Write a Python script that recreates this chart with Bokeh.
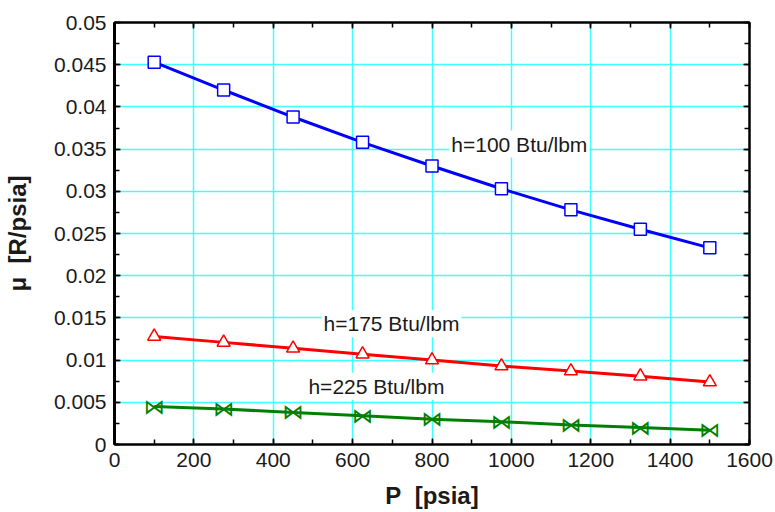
from bokeh.plotting import figure
from bokeh.models import (Range1d, LinearAxis, SingleIntervalTicker, CustomJSTickFormatter,
                          Label, ColumnDataSource)
from bokeh.core.properties import value
from bokeh.embed import file_html
from bokeh.resources import INLINE

# ---- data ----
P = [100, 275, 450, 625, 800, 975, 1150, 1325, 1500]
mu_h100 = [0.0453, 0.0420, 0.0388, 0.0358, 0.0330, 0.0303, 0.0278, 0.0255, 0.0233]
mu_h175 = [0.0128, 0.0121, 0.0114, 0.0107, 0.0100, 0.0093, 0.0087, 0.0081, 0.0074]
mu_h225 = [0.0045, 0.0042, 0.0038, 0.0034, 0.0030, 0.0027, 0.0023, 0.0020, 0.0017]
series_labels = ["h=100 Btu/lbm", "h=175 Btu/lbm", "h=225 Btu/lbm"]
x_title = "P\u00a0\u00a0[psia]"
y_title = "\u03bc\u00a0\u00a0[R/psia]"

FONT = "Liberation Sans"
GRID = "#40FFFF"
TXT = "#1a1a1a"

p = figure(width=775, height=512, output_backend="svg", toolbar_location=None,
           x_range=Range1d(0, 1600), y_range=Range1d(0, 0.05),
           x_axis_location=None, y_axis_location=None,
           min_border_left=114, min_border_right=26, min_border_top=22, min_border_bottom=68)
p.outline_line_color = "black"
p.outline_line_width = 2
p.background_fill_color = "white"
p.border_fill_color = "white"

xt = SingleIntervalTicker(interval=200, num_minor_ticks=2)
yt = SingleIntervalTicker(interval=0.005, num_minor_ticks=2)
yfmt = CustomJSTickFormatter(code="return String(Number(tick.toFixed(4)));")
blank = CustomJSTickFormatter(code="return '';")

def style_axis(ax, labels):
    ax.axis_line_color = "black"
    ax.axis_line_width = 2
    ax.major_tick_in = 6
    ax.major_tick_out = 0
    ax.minor_tick_in = 5
    ax.minor_tick_out = 0
    ax.major_tick_line_color = "black"
    ax.minor_tick_line_color = "black"
    ax.major_tick_line_width = 1.5
    ax.minor_tick_line_width = 1.5
    if labels:
        ax.major_label_text_font = FONT
        ax.major_label_text_font_size = "21px"
        ax.major_label_text_color = TXT
        ax.major_label_standoff = 8
        ax.axis_label_text_font = FONT
        ax.axis_label_text_font_size = "24px"
        ax.axis_label_text_font_style = "bold"
        ax.axis_label_text_color = TXT
    else:
        ax.major_label_standoff = 0

bx = LinearAxis(ticker=xt, axis_label=x_title, axis_label_standoff=12)
style_axis(bx, True)
lx = LinearAxis(ticker=yt, formatter=yfmt, axis_label=y_title, axis_label_standoff=20)
style_axis(lx, True)
lx.axis_line_width = 3
tx = LinearAxis(ticker=xt, formatter=blank)
style_axis(tx, False)
rx = LinearAxis(ticker=yt, formatter=blank)
style_axis(rx, False)
p.add_layout(bx, "below")
p.add_layout(lx, "left")
p.add_layout(tx, "above")
p.add_layout(rx, "right")

p.xgrid.ticker = xt
p.ygrid.ticker = yt
p.xgrid.grid_line_color = GRID
p.ygrid.grid_line_color = GRID
p.xgrid.grid_line_width = 1.5
p.ygrid.grid_line_width = 1.5

src = ColumnDataSource(dict(P=P, a=mu_h100, b=mu_h175, c=mu_h225))

p.line("P", "a", source=src, line_color="#0000FF", line_width=3)
p.scatter("P", "a", source=src, marker="square", size=12, line_color="#0000FF",
          line_width=1.5, fill_color="white")

p.line("P", "b", source=src, line_color="#FF0000", line_width=3)
p.scatter("P", "b", source=src, marker="triangle", size=13, line_color="#FF0000",
          line_width=1.5, fill_color="white")

p.line("P", "c", source=src, line_color="#008000", line_width=3)
p.text("P", "c", source=src, text=value("\u22c8"), text_color="#008000",
       text_font=value("DejaVu Sans"), text_font_size="21px",
       text_align="center", text_baseline="middle")

label_pos = [(1020, 0.0356), (698, 0.0143), (660, 0.0069)]
for (lxp, lyp), txt in zip(label_pos, series_labels):
    p.add_layout(Label(x=lxp, y=lyp, text=txt, text_font=FONT, text_font_size="21px",
                       text_color=TXT, text_align="center", text_baseline="middle",
                       background_fill_color="white", padding=2))

open("out.html", "w").write(file_html(p, INLINE))
